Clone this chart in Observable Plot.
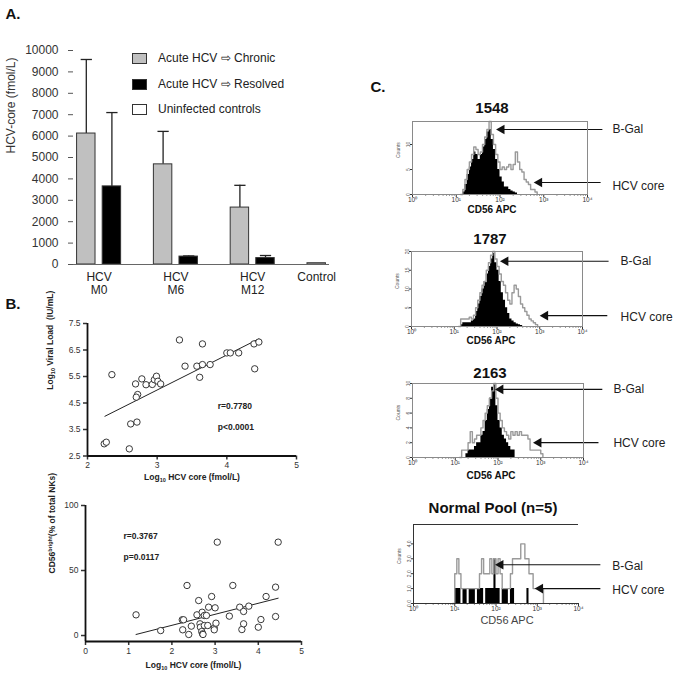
<!DOCTYPE html>
<html><head><meta charset="utf-8">
<script src="https://cdn.jsdelivr.net/npm/d3@7"></script>
<script src="https://cdn.jsdelivr.net/npm/@observablehq/plot@0.6"></script>
<style>
body{margin:0;background:#fff;font-family:Arial,"Liberation Sans",sans-serif;}
#root{position:relative;width:677px;height:676px;overflow:hidden;background:#fff}
#root svg{position:absolute;overflow:visible;background:transparent}
.lbl{position:absolute;white-space:nowrap;color:#111;transform:translate(-50%,-50%);line-height:1}
.lft{transform:translate(0,-50%)}
.box{position:absolute;width:15px;height:11px;border:1px solid #333;box-sizing:border-box}
</style></head><body><div id="root"></div>
<script>
// ---------- Panel A data ----------
const groups = ["HCV\nM0", "HCV\nM6", "HCV\nM12", "Control"];
const seriesNames = ["Acute HCV ⇨ Chronic", "Acute HCV ⇨ Resolved", "Uninfected controls"];
const seriesColors = ["#c0c0c0", "#000000", "#ffffff"];
const chronicMean = [6120, 4680, 2660];
const chronicUpper = [9580, 6220, 3700];
const resolvedMean = [3650, 370, 300];
const resolvedUpper = [7100, 400, 420];
const controlMean = [60];
const yTicksA = [0,1000,2000,3000,4000,5000,6000,7000,8000,9000,10000];

// ---------- Panel B data ----------
const s1X = [2.35,2.69,2.78,2.84,2.93,2.96,2.99,3.01,3.05,2.72,2.70,2.62,2.71,3.32,3.40,3.57,3.65,3.65,3.61,3.76,4.00,4.05,4.17,4.39,4.46,4.40,2.24,2.27,2.60];
const s1Y = [5.57,5.22,5.41,5.19,5.20,5.38,5.51,5.32,5.22,4.82,4.72,3.71,3.78,6.88,5.89,5.89,6.73,5.95,5.47,5.95,6.39,6.39,6.39,6.73,6.80,5.79,2.96,3.02,2.77];
const fit1X = [2.25, 4.46];
const fit1Y = [4.0, 6.92];
const s1Stats = ["r=0.7780", "p<0.0001"];

const s2X = [1.17,1.74,2.24,2.27,2.25,2.35,2.39,2.45,2.58,2.62,2.65,2.66,2.69,2.70,2.71,2.72,2.75,2.75,2.80,2.85,2.83,2.92,3.00,2.98,2.98,3.02,3.05,3.33,3.41,3.57,3.62,3.66,3.66,3.78,4.00,4.06,4.18,4.40,4.40,4.46];
const s2Y = [15.9,3.8,12.1,12.1,4.4,38.5,0.8,7.2,15.9,26.9,9.0,6.4,3.1,17.9,1.3,0.8,15.4,7.7,15.4,21.8,7.7,30.0,21.3,5.9,4.4,9.5,71.8,14.9,38.5,21.8,4.6,18.5,9.0,22.6,6.4,12.3,30.0,37.2,14.6,71.8];
const fit2X = [1.17, 4.46];
const fit2Y = [0.8, 28.7];
const s2Stats = ["r=0.3767", "p=0.0117"];

// ---------- Panel C data (counts per log10 bin of width 0.05) ----------
const binW = 0.05;
const h1548Gray = [0,1,3,5,6.5,8,9.5,9,8,8.5,10,11.5,13,14.6,12,10,8,6.5,5,5.5,5,5.5,6,5,6,8.5,6.5,5,4.5,3,2.5,2,1,1,0.5,0];
const h1548Black = [0.5,2,4,5.5,7,8.5,8,7,8,9.5,11,12.5,13,11,9,7,5,3.5,2.5,1.5,1.5,1,0.7,0.5,0.3];
const h1787Gray = [0,2,2,2,2,2.5,2,3,5,7,9,11,12,15,17,19,20,18,16,14,12,11,9,7,6,9,11,10,8,6,5,4,3,2,1.5,1,0.5,0];
const h1787Black = [0.5,1,1,1,1,1.5,2,4,6,8,10,12,14,16,18,19.5,17,15,12,9,7,5,3.5,2,1.5,1,0.7,0.5,0.3];
const h2163Gray = [0,1,1,1,2,3.5,2,2.5,3,3,4,5,6,7,8,9,10,8,6,5,4,3.5,3,2.5,3.5,3,3.5,3,3.5,3,3,3,2.5,1,1,1,1,1,0.5,0];
const h2163Black = [0.5,1,1,1,1.5,2,2,3,3.5,5,6.5,8,9.5,9.8,7,5,4,3,2.5,2,1.5,1,1,0];
const hPoolGray = [0,2,3,2,1,1,1,1,1,1,1,1,1,2,3,2,2,2,3,2,3,2,3,2,1,1,1,1,2,3,3,3,3,4,4,3,3,2,2,1,1,1,1,1,0];
const hPoolBlack = [1,1,1,0,1,1,0,1,1,1,0,1,1,1,0,1,1,1,1,3,1,1,0,1,1,1,0,1,1,0,0,0,0,0,0,1,0];
const decadeTicks = [1,10,100,1000,10000];
const supDigits = ["⁰","¹","²","³","⁴"];

const root = document.getElementById("root");
const FONT = "Arial, 'Liberation Sans', sans-serif";
function place(svg, left, top){ svg.style.left = left+"px"; svg.style.top = top+"px"; root.appendChild(svg); }
function label(text, x, y, css, cls="lbl"){ const d=document.createElement("div"); d.className=cls; d.textContent=text; d.style.left=x+"px"; d.style.top=y+"px"; Object.assign(d.style, css||{}); root.appendChild(d); return d; }
// rich text (sub/superscripts) inside Plot text elements
function enrich(svg, startsWith, html){
  d3.select(svg).selectAll("text").filter(function(){ return this.textContent.startsWith(startsWith); }).each(function(){ this.innerHTML = html; });
}

// ---------- Panel A ----------
const barRows = [];
for (let i=0;i<3;i++){
  barRows.push({group:groups[i], pos:i*3, series:seriesNames[0], value:chronicMean[i], upper:chronicUpper[i]});
  barRows.push({group:groups[i], pos:i*3+1, series:seriesNames[1], value:resolvedMean[i], upper:resolvedUpper[i]});
}
barRows.push({group:groups[3], pos:9, series:seriesNames[2], value:controlMean[0], upper:null});
const groupLabels = groups.map(g => { const r = barRows.filter(d=>d.group===g); return {label:g, pos:d3.mean(r, d=>d.pos)}; });
const errRows = barRows.filter(d=>d.upper!=null);
const half = 0.36, cap = 0.22;

const plotA = Plot.plot({
  width:340, height:300, marginLeft:73, marginRight:11, marginTop:50, marginBottom:36,
  style:{fontFamily:FONT, fontSize:"12px", color:"#333", background:"transparent"},
  x:{domain:[-0.5,9.5], axis:null},
  y:{domain:[0,10000], axis:null},
  color:{domain:seriesNames, range:seriesColors},
  marks:[
    Plot.axisY({ticks:yTicksA, tickSize:5, tickPadding:10, tickFormat:d=>String(d), label:null, fontSize:12, stroke:"#555"}),
    Plot.ruleX(errRows, {x:"pos", y1:"value", y2:"upper", stroke:"#222", strokeWidth:1.3}),
    Plot.link(errRows, {x1:d=>d.pos-cap, x2:d=>d.pos+cap, y1:"upper", y2:"upper", stroke:"#222", strokeWidth:1.3}),
    Plot.rectY(barRows, {x1:d=>d.pos-half, x2:d=>d.pos+half, y:"value", fill:"series", stroke:"#333", strokeWidth:1}),
    Plot.ruleY([0], {stroke:"#666"}),
    Plot.text(groupLabels, {x:"pos", y:0, text:"label", lineAnchor:"top", dy:7, lineHeight:1.08, fontSize:12, fill:"#222"}),
    Plot.text(["HCV-core (fmol/L)"], {frameAnchor:"left", text:d=>d, rotate:-90, dx:-62, dy:-4, fontSize:12, fill:"#333"})
  ]
});
place(plotA, 0, 0);

// legend A
const legY = [58, 84, 109];
seriesNames.forEach((s,i)=>{
  const b=document.createElement("div"); b.className="box"; b.style.left="132px"; b.style.top=(legY[i]-5.5)+"px"; b.style.background=seriesColors[i]; root.appendChild(b);
  label(s, 158, legY[i], {fontSize:"12px", color:"#222"}, "lbl lft");
});

const logTitle = 'Log<tspan font-size="5.5" dy="2">10</tspan><tspan dy="-2"> HCV core (fmol/L)</tspan>';

// ---------- Panel B scatter 1 ----------
const pts1 = s1X.map((x,i)=>({x, y:s1Y[i]}));
const fit1 = fit1X.map((x,i)=>({x, y:fit1Y[i]}));
const plotB1 = Plot.plot({
  width:340, height:190, marginTop:23, marginLeft:87, marginRight:44, marginBottom:34.5,
  style:{fontFamily:FONT, fontSize:"8px", color:"#333", background:"transparent"},
  x:{domain:[2,5], axis:null}, y:{domain:[2.5,7.5], axis:null},
  marks:[
    Plot.axisX({ticks:[2,3,4,5], tickSize:4, tickPadding:2, tickFormat:d=>String(d), label:null, fontSize:8.5, strokeWidth:1.5}),
    Plot.axisY({ticks:[2.5,3.5,4.5,5.5,6.5,7.5], tickSize:4, tickPadding:3, tickFormat:d=>d.toFixed(1), label:null, fontSize:8.5, strokeWidth:1.5}),
    Plot.ruleX([2], {stroke:"#111", strokeWidth:1.8}),
    Plot.ruleY([2.5], {stroke:"#111", strokeWidth:1.8}),
    Plot.line(fit1, {x:"x", y:"y", stroke:"#222", strokeWidth:1}),
    Plot.dot(pts1, {x:"x", y:"y", r:3.2, stroke:"#222", strokeWidth:0.9, fill:"white"}),
    Plot.text(s1Stats, {x:3.87, y:(d,i)=>[4.37,3.58][i], text:d=>d, textAnchor:"start", fontWeight:"bold", fontSize:8.5, fill:"#222"}),
    Plot.text(["Log10 Viral Load  (IU/mL)"], {frameAnchor:"left", text:d=>d, rotate:-90, dx:-37, fontWeight:"bold", fontSize:8.5, fill:"#222"}),
    Plot.text(["Log10 HCV core (fmol/L)"], {frameAnchor:"bottom", text:d=>d, dy:23.5, fontWeight:"bold", fontSize:8.5, fill:"#222"})
  ]
});
enrich(plotB1, "Log10 Viral", 'Log<tspan font-size="5.5" dy="2">10</tspan><tspan dy="-2"> Viral Load  (IU/mL)</tspan>');
enrich(plotB1, "Log10 HCV", logTitle);
place(plotB1, 0, 300);

// ---------- Panel B scatter 2 ----------
const pts2 = s2X.map((x,i)=>({x, y:s2Y[i]}));
const fit2 = fit2X.map((x,i)=>({x, y:fit2Y[i]}));
const plotB2 = Plot.plot({
  width:340, height:186, marginTop:15, marginLeft:85, marginRight:39, marginBottom:35,
  style:{fontFamily:FONT, fontSize:"8px", color:"#333", background:"transparent"},
  x:{domain:[0,5], axis:null}, y:{domain:[-4.6,100], axis:null},
  marks:[
    Plot.axisX({ticks:[0,1,2,3,4,5], tickSize:4, tickPadding:2, tickFormat:d=>String(d), label:null, fontSize:8.5, strokeWidth:1.5}),
    Plot.axisY({ticks:[0,50,100], tickSize:4, tickPadding:3, tickFormat:d=>String(d), label:null, fontSize:8.5, strokeWidth:1.5}),
    Plot.ruleX([0], {stroke:"#111", strokeWidth:1.8}),
    Plot.ruleY([-4.6], {stroke:"#111", strokeWidth:1.8}),
    Plot.line(fit2, {x:"x", y:"y", stroke:"#222", strokeWidth:1}),
    Plot.dot(pts2, {x:"x", y:"y", r:3.2, stroke:"#222", strokeWidth:0.9, fill:"white"}),
    Plot.text(s2Stats, {x:0.88, y:(d,i)=>[76,60][i], text:d=>d, textAnchor:"start", fontWeight:"bold", fontSize:8.5, fill:"#222"}),
    Plot.text(["CD56bright (% of total NKs)"], {frameAnchor:"left", text:d=>d, rotate:-90, dx:-33, fontWeight:"bold", fontSize:8.5, fill:"#222"}),
    Plot.text(["Log10 HCV core (fmol/L)"], {frameAnchor:"bottom", text:d=>d, dy:26, fontWeight:"bold", fontSize:8.5, fill:"#222"})
  ]
});
enrich(plotB2, "CD56bright", 'CD56<tspan font-size="5.5" dy="-3">bright</tspan><tspan dy="3">(% of total NKs)</tspan>');
enrich(plotB2, "Log10 HCV", logTitle);
place(plotB2, 0, 490);

// ---------- Panel C histograms ----------
const minorTicks = [];
for (let e=0;e<4;e++) for (let k=2;k<10;k++) minorTicks.push(k*10**e);

function histogram(cfg){
  const {frameL, frameR, frameT, frameB, ymax, yticks, grayStart, gray, blackStart, black, arrows, boxed} = cfg;
  const mt = 6, mb = 24;
  const blackPts = black.map((c,i)=>({x:10**(blackStart+i*binW), c}));
  blackPts.push({x:10**(blackStart+black.length*binW), c:0});
  const grayPts = gray.map((c,i)=>({x:10**(grayStart+i*binW), c}));
  const marks = [
    Plot.areaY(blackPts, {x:"x", y:"c", curve:"step-after", fill:"#000"}),
    Plot.line(grayPts, {x:"x", y:"c", curve:"step-after", stroke:"#9a9a9a", strokeWidth:1.4}),
    Plot.axisX({ticks:decadeTicks, tickSize:3, tickPadding:0, tickFormat:d=>"10"+supDigits[Math.round(Math.log10(d))], label:null, fontSize:6.5, stroke:"#333"}),
    Plot.axisX({ticks:minorTicks, tickSize:1.5, tickFormat:()=>"", label:null, stroke:"#333"}),
    Plot.axisY({ticks:yticks, tickSize:2, tickPadding:1, tickRotate:-90, label:null, fontSize:5, fill:"#555"}),
    Plot.text(["Counts"], {frameAnchor:"left", text:d=>d, rotate:-90, dx:-14, fontSize:5, fill:"#555"}),
    Plot.ruleY([0], {stroke:"#333"}),
    Plot.link(arrows, {x1:d=>10**d.tail, x2:d=>10**d.head, y1:"y", y2:"y", stroke:"#111", strokeWidth:1.2}),
    Plot.dot(arrows, {x:d=>10**d.head, y:"y", symbol:"triangle", r:3.6, rotate:-90, fill:"#111", stroke:"none", dx:3}),
    Plot.text(arrows, {x:d=>10**d.textX, y:"ly", text:"label", textAnchor:"start", fontSize:12, fill:"#222"})
  ];
  if (boxed) marks.push(Plot.frame({stroke:"#8a8a8a"}));
  else { marks.push(Plot.ruleY([ymax], {stroke:"#333"})); marks.push(Plot.ruleX([1], {stroke:"#333"})); }
  const p = Plot.plot({
    width:317, height:(frameB-frameT)+mt+mb, marginLeft:frameL-360, marginRight:677-frameR, marginTop:mt, marginBottom:mb,
    style:{fontFamily:FONT, fontSize:"7px", color:"#333", background:"transparent"},
    x:{type:"log", domain:[1,10000], axis:null}, y:{domain:[0,ymax], axis:null},
    marks
  });
  place(p, 360, frameT-mt);
}

histogram({frameL:412, frameR:587, frameT:121, frameB:194, ymax:14.6, yticks:[0,5,10], grayStart:1.10, gray:h1548Gray, blackStart:1.15, black:h1548Black, boxed:true,
  arrows:[{label:"B-Gal", tail:4.34, head:1.97, y:13, textX:4.57, ly:13},{label:"HCV core", tail:4.30, head:2.83, y:2.4, textX:4.57, ly:1.6}]});
histogram({frameL:411, frameR:582, frameT:251, frameB:326, ymax:20, yticks:[0,5,10,15,20], grayStart:1.10, gray:h1787Gray, blackStart:1.15, black:h1787Black, boxed:true,
  arrows:[{label:"B-Gal", tail:4.61, head:2.13, y:17.4, textX:4.89, ly:17.4},{label:"HCV core", tail:4.58, head:3.06, y:2.9, textX:4.89, ly:2.4}]});
histogram({frameL:412, frameR:583, frameT:383, frameB:457, ymax:10, yticks:[0,2,4,6,8,10], grayStart:1.10, gray:h2163Gray, blackStart:1.25, black:h2163Black, boxed:true,
  arrows:[{label:"B-Gal", tail:4.44, head:1.99, y:9.2, textX:4.70, ly:9.2},{label:"HCV core", tail:4.35, head:2.88, y:2.0, textX:4.70, ly:2.0}]});
histogram({frameL:413, frameR:578, frameT:524, frameB:603, ymax:5.3, yticks:[0,1,2,3,4], grayStart:0.95, gray:hPoolGray, blackStart:1.00, black:hPoolBlack, boxed:false,
  arrows:[{label:"B-Gal", tail:4.53, head:2.04, y:2.6, textX:4.82, ly:2.53},{label:"HCV core", tail:4.53, head:3.0, y:1.0, textX:4.82, ly:0.87}]});

// ---------- titles & panel labels ----------
label("A.", 13, 13, {fontSize:"15px", fontWeight:"bold"});
label("B.", 13, 303, {fontSize:"15px", fontWeight:"bold"});
label("C.", 378, 86, {fontSize:"15px", fontWeight:"bold"});
label("1548", 492, 107, {fontSize:"15px", fontWeight:"bold"});
label("1787", 490, 238, {fontSize:"15px", fontWeight:"bold"});
label("2163", 490, 372, {fontSize:"15px", fontWeight:"bold"});
label("Normal Pool (n=5)", 493, 507, {fontSize:"15px", fontWeight:"bold"});
label("CD56 APC", 492, 210, {fontSize:"10px", fontWeight:"bold"});
label("CD56 APC", 491, 341, {fontSize:"10px", fontWeight:"bold"});
label("CD56 APC", 491, 476, {fontSize:"10px", fontWeight:"bold"});
label("CD56 APC", 507, 620, {fontSize:"11px", color:"#444"});
</script></body></html>
